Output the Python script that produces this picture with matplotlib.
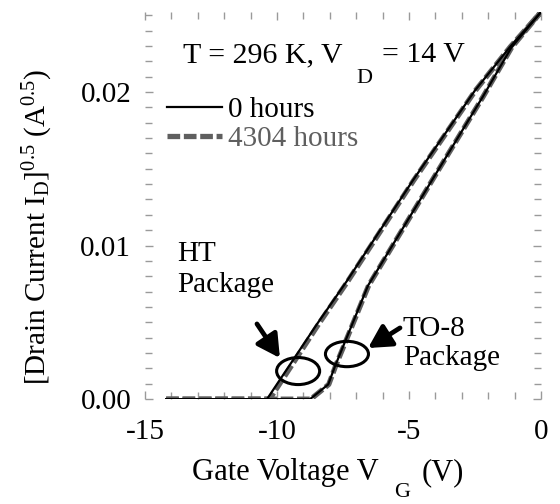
"""Transfer curves: sqrt(drain current) vs gate voltage, before and after ageing."""

import matplotlib
matplotlib.use("Agg")
import matplotlib.pyplot as plt
from matplotlib.patches import Ellipse
from matplotlib.ticker import MultipleLocator, FormatStrFormatter

plt.rcParams["font.family"] = ["Liberation Serif", "DejaVu Serif"]
plt.rcParams["mathtext.fontset"] = "custom"
plt.rcParams["mathtext.rm"] = "Liberation Serif"
plt.rcParams["mathtext.it"] = "Liberation Serif:italic"
plt.rcParams["axes.unicode_minus"] = False

# HT package
vg_ht_0h = [-14.2, -10.38, -8.48, -7.35, -4.85, -2.50, -1.17, 0.0]
id_ht_0h = [0.0, 0.0, 0.0049, 0.0077, 0.01425, 0.0201, 0.02294, 0.0252]
vg_ht_4304h = [-14.2, -10.28, -8.42, -7.31, -4.82, -2.48, -1.16, 0.0]
id_ht_4304h = [0.0, 0.0, 0.0049, 0.0077, 0.01425, 0.0201, 0.02294, 0.0252]

# TO-8 package
vg_to8_0h = [-14.2, -8.75, -8.06, -7.80, -6.55, -4.13, -2.20, -1.12, 0.0]
id_to8_0h = [0.0, 0.0, 0.00096, 0.00216, 0.0074, 0.01425, 0.0197, 0.0229, 0.0252]
vg_to8_4304h = [-14.2, -8.72, -8.04, -7.78, -6.53, -4.12, -2.19, -1.11, 0.0]
id_to8_4304h = [0.0, 0.0, 0.00096, 0.00216, 0.0074, 0.01425, 0.0197, 0.0229, 0.0252]

FS = 21
GRAY = "#5f5f5f"
TICK_GRAY = "#9a9a9a"
W, H = 560, 504

fig = plt.figure(figsize=(W / 100, H / 100), dpi=100)
ax = fig.add_axes([0.259, 0.208, 0.707, 0.768])


def put(x_px, base_px, s, size=FS, **kw):
    # place text by pixel position of its left edge / baseline
    fig.text(x_px / W, 1 - base_px / H, s, fontsize=size, ha="left", va="baseline", **kw)


dash_kw = dict(color=GRAY, lw=3.8, dashes=(2.4, 0.7), solid_capstyle="butt")
ax.plot(vg_ht_4304h, id_ht_4304h, label="4304 hours", **dash_kw)
ax.plot(vg_to8_4304h, id_to8_4304h, **dash_kw)
ax.plot(vg_ht_0h, id_ht_0h, color="black", lw=1.6, label="0 hours", zorder=3)
ax.plot(vg_to8_0h, id_to8_0h, color="black", lw=1.6, zorder=3)

ax.set_xlim(-15, 0)
ax.set_ylim(0, 0.0252)
ax.xaxis.set_major_locator(MultipleLocator(5))
ax.xaxis.set_minor_locator(MultipleLocator(1))
ax.yaxis.set_major_locator(MultipleLocator(0.01))
ax.yaxis.set_minor_locator(MultipleLocator(0.001))
ax.yaxis.set_major_formatter(FormatStrFormatter("%.2f"))
ax.tick_params(which="both", direction="in", top=True, right=True,
               color=TICK_GRAY, width=1.0, labelsize=FS)
ax.tick_params(which="major", length=6)
ax.tick_params(which="minor", length=5)
ax.tick_params(axis="x", pad=14)
ax.tick_params(axis="y", pad=10)
for s in ax.spines.values():
    s.set_visible(False)

ax.set_ylabel(r"[Drain Current I$_{\mathrm{D}}$]$^{0.5}$ (A$^{0.5}$)", fontsize=FS)
ax.yaxis.set_label_coords(-0.228, 0.444)

# x label with the low subscript of the original
put(192, 480, "Gate Voltage V", size=22)
put(394, 497, "G", size=16)
put(422, 480, "(V)", size=22)

# condition line
put(183, 62, "T = 296 K, V", size=21.5)
put(356, 83, "D", size=16)
put(382, 62, "= 14 V", size=21.5)

handles, labels = ax.get_legend_handles_labels()
leg = ax.legend(handles[::-1], labels[::-1], loc="upper left",
                bbox_to_anchor=(0.055, 0.782), frameon=False, fontsize=FS,
                handlelength=1.9, handletextpad=0.2, borderpad=0, borderaxespad=0,
                labelspacing=0.1)
leg.get_texts()[1].set_color(GRAY)

ax.text(-13.79, 0.0103, "HT\nPackage", fontsize=FS, ha="left", va="top", linespacing=1.25)
ax.text(-5.23, 0.0054, "TO-8\nPackage", fontsize=FS, ha="left", va="top", linespacing=1.15)

ax.add_patch(Ellipse((-9.2, 0.00183), 1.63, 0.00176, fill=False, lw=2.2, color="black", zorder=4))
ax.add_patch(Ellipse((-7.35, 0.00294), 1.63, 0.00165, fill=False, lw=2.2, color="black", zorder=4))

arrow_kw = dict(arrowstyle="-|>,head_length=0.55,head_width=0.3", lw=3.4,
                color="black", mutation_scale=25, shrinkA=0, shrinkB=0)
ax.annotate("", xy=(-9.89, 0.00268), xytext=(-10.76, 0.0049), arrowprops=arrow_kw)
ax.annotate("", xy=(-6.55, 0.00333), xytext=(-5.34, 0.00464), arrowprops=arrow_kw)

fig.savefig("out.png", dpi=100)
